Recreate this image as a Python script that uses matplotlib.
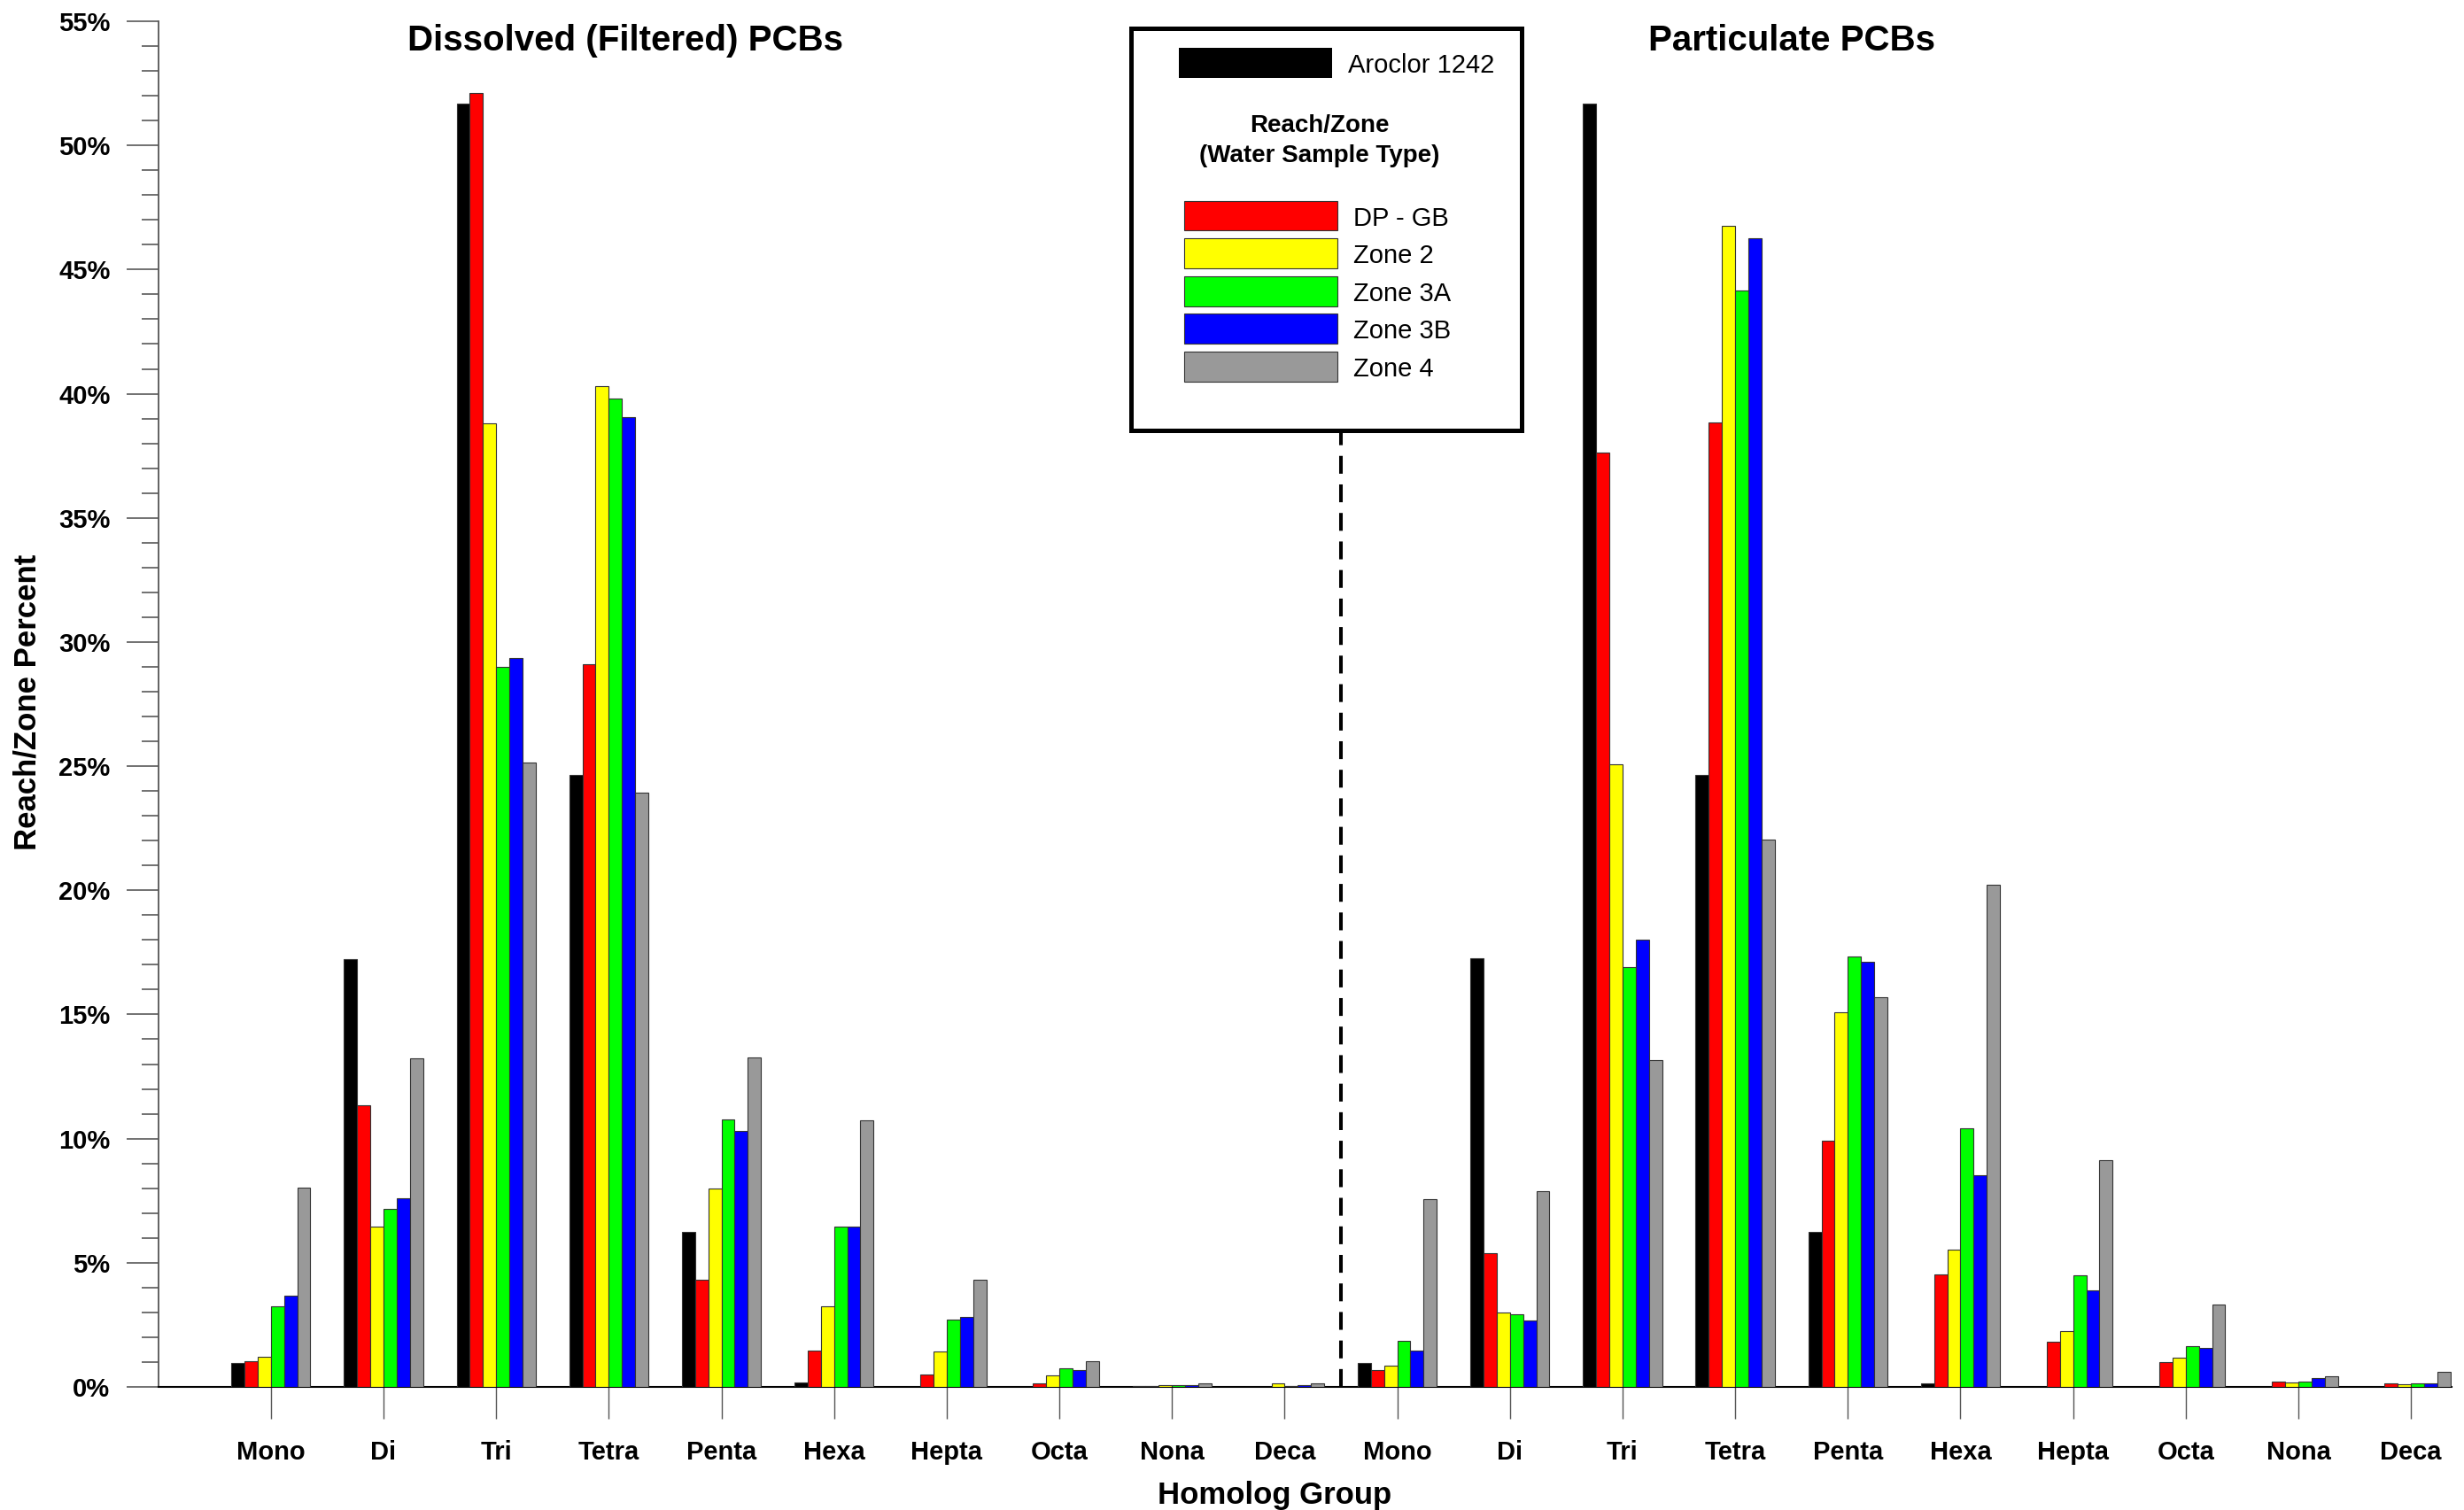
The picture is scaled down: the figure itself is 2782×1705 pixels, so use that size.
import matplotlib
matplotlib.use("Agg")
import matplotlib.pyplot as plt
from matplotlib.patches import Rectangle
from matplotlib.ticker import MultipleLocator, FuncFormatter
import numpy as np

plt.rcParams['font.family'] = ['Liberation Sans', 'DejaVu Sans']

# homolog groups (same list for both panels)
homologs = ['Mono', 'Di', 'Tri', 'Tetra', 'Penta', 'Hexa', 'Hepta', 'Octa', 'Nona', 'Deca']

# dissolved (filtered) PCBs, percent
diss_aroclor = [0.97, 17.24, 51.68, 24.63, 6.23, 0.18, 0.0, 0.0, 0.03, 0.0]
diss_dpgb = [1.05, 11.36, 52.11, 29.12, 4.33, 1.45, 0.51, 0.14, 0.03, 0.01]
diss_zone2 = [1.23, 6.46, 38.81, 40.29, 7.98, 3.23, 1.42, 0.45, 0.06, 0.13]
diss_zone3a = [3.23, 7.18, 29.00, 39.82, 10.78, 6.45, 2.70, 0.75, 0.08, 0.03]
diss_zone3b = [3.66, 7.59, 29.34, 39.04, 10.30, 6.45, 2.81, 0.67, 0.06, 0.06]
diss_zone4 = [8.02, 13.23, 25.14, 23.93, 13.26, 10.75, 4.33, 1.04, 0.16, 0.14]

# particulate PCBs, percent
part_aroclor = [0.95, 17.26, 51.68, 24.65, 6.23, 0.15, 0.0, 0.0, 0.0, 0.0]
part_dpgb = [0.66, 5.39, 37.62, 38.86, 9.91, 4.53, 1.81, 1.01, 0.22, 0.13]
part_zone2 = [0.84, 2.99, 25.09, 46.76, 15.08, 5.52, 2.25, 1.19, 0.18, 0.09]
part_zone3a = [1.86, 2.91, 16.90, 44.17, 17.33, 10.43, 4.51, 1.63, 0.22, 0.15]
part_zone3b = [1.46, 2.69, 18.03, 46.25, 17.12, 8.52, 3.90, 1.58, 0.35, 0.16]
part_zone4 = [7.57, 7.90, 13.15, 22.04, 15.70, 20.22, 9.12, 3.30, 0.42, 0.62]

series_names = ['Aroclor 1242', 'DP - GB', 'Zone 2', 'Zone 3A', 'Zone 3B', 'Zone 4']
colors = ['#000000', '#ff0000', '#ffff00', '#00ff00', '#0000ff', '#999999']

dissolved = [diss_aroclor, diss_dpgb, diss_zone2, diss_zone3a, diss_zone3b, diss_zone4]
particulate = [part_aroclor, part_dpgb, part_zone2, part_zone3a, part_zone3b, part_zone4]

W, H = 2782, 1705
fig = plt.figure(figsize=(W / 100, H / 100), dpi=100)
ax = fig.add_axes([178.6 / W, 1 - 1566 / H, (2768 - 178.6) / W, (1566 - 24) / H])

x = np.arange(1, 21)
w = 0.117
for i in range(6):
    vals = list(dissolved[i]) + list(particulate[i])
    ax.bar(x + (i - 2.5) * w, vals, width=w, color=colors[i],
           edgecolor='#333333', linewidth=0.8, zorder=3)

ax.set_xlim(0, 20.36)
ax.set_ylim(0, 55)

# dashed divider between the two panels (hidden behind legend at top)
ax.plot([10.5, 10.5], [0, 55], color='black', lw=2.9, linestyle=(0, (5, 3)), zorder=2)

ax.set_xticks(x)
ax.set_xticklabels(homologs + homologs, fontsize=21, fontweight='bold')
ax.tick_params(axis='x', direction='out', length=26, width=1.0, color='#555555', pad=17)

ax.yaxis.set_major_locator(MultipleLocator(5))
ax.yaxis.set_minor_locator(MultipleLocator(1))
ax.yaxis.set_major_formatter(FuncFormatter(lambda v, p: '%d%%' % round(v)))
ax.tick_params(axis='y', which='major', length=26, width=1.3, color='#666666',
               labelsize=21, pad=13)
ax.tick_params(axis='y', which='minor', length=13.5, width=1.3, color='#666666')
plt.setp(ax.get_yticklabels(), fontweight='bold')

ax.spines['top'].set_visible(False)
ax.spines['right'].set_visible(False)
ax.spines['left'].set_color('#555555')
ax.spines['left'].set_linewidth(1.3)
ax.spines['bottom'].set_color('black')
ax.spines['bottom'].set_linewidth(1.5)

ax.text(4.15, 54.2, 'Dissolved (Filtered) PCBs', ha='center', va='center',
        fontsize=29, fontweight='bold')
ax.text(14.5, 54.2, 'Particulate PCBs', ha='center', va='center',
        fontsize=29, fontweight='bold')

fig.text(31 / W, 1 - 793 / H, 'Reach/Zone Percent', rotation=90, ha='center',
         va='center', fontsize=25, fontweight='bold')
fig.text(1439 / W, 1 - 1672 / H, 'Homolog Group', ha='center', va='top',
         fontsize=25, fontweight='bold')

# legend box drawn in its own axes, coordinates in pixels
lx0, lx1, ly0, ly1 = 1277, 1718, 31.5, 486
lg = fig.add_axes([lx0 / W, 1 - ly1 / H, (lx1 - lx0) / W, (ly1 - ly0) / H])
lg.set_xlim(lx0, lx1)
lg.set_ylim(ly1, ly0)
lg.set_xticks([])
lg.set_yticks([])
for s in lg.spines.values():
    s.set_linewidth(3.6)
    s.set_color('black')

lg.add_patch(Rectangle((1331, 54), 173, 34, facecolor=colors[0], edgecolor='none'))
lg.text(1522, 74, series_names[0], ha='left', va='center', fontsize=21)
lg.text(1490, 142, 'Reach/Zone', ha='center', va='center', fontsize=20, fontweight='bold')
lg.text(1490, 175.5, '(Water Sample Type)', ha='center', va='center', fontsize=20,
        fontweight='bold')
row_top = [226.5, 269, 312, 354, 397]
for k in range(5):
    lg.add_patch(Rectangle((1337, row_top[k]), 173, 33.5, facecolor=colors[k + 1],
                           edgecolor='#333333', linewidth=0.8))
    lg.text(1528, row_top[k] + 20, series_names[k + 1], ha='left', va='center', fontsize=21)

fig.savefig('out.png', dpi=100)
